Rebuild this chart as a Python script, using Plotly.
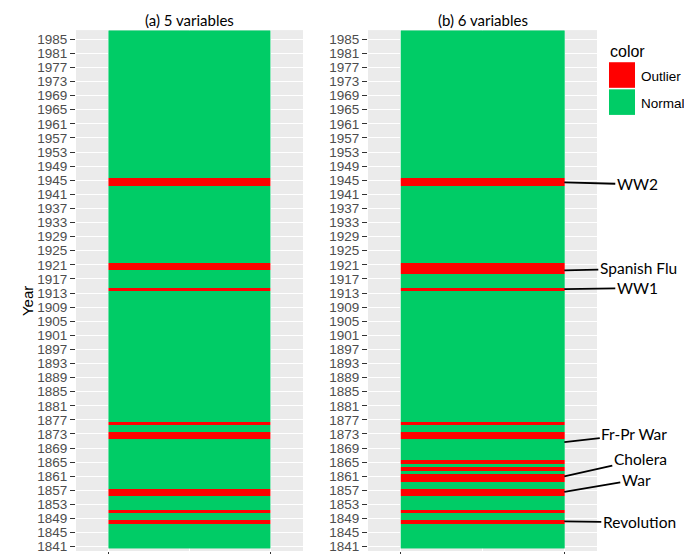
import plotly.graph_objects as go

# Years covered and the years flagged as outliers by each model
years = list(range(1841, 1988))
outlier_years_5 = [1848, 1851, 1856, 1857, 1872, 1873, 1876, 1914, 1920, 1921, 1944, 1945]
outlier_years_6 = [1848, 1851, 1856, 1857, 1860, 1861, 1863, 1865, 1872, 1873, 1876,
                   1914, 1919, 1920, 1921, 1944, 1945]
panel_titles = ["(a) 5 variables", "(b) 6 variables"]
y_tick_years = list(range(1841, 1988, 4))

# Historical events marked on the right panel (label, year pointed at)
event_labels = ["WW2", "Spanish Flu", "WW1", "Fr-Pr War", "Cholera", "War", "Revolution"]
event_years = [1944.4, 1919.4, 1914.1, 1870.7, 1861.0, 1856.6, 1848.2]
# label offsets from the arrow tip, in pixels
event_offsets = [(73, 2), (74, -2), (73, -1), (70, -8), (76, -17), (72, -12), (75, 1)]

GREEN = "#00CC66"
RED = "#FF0000"
PANEL_BG = "#EBEBEB"
W, H = 684, 559
REF_H = 554  # layout positions below are given on a 684 x 554 grid


def flags(outliers):
    s = set(outliers)
    return [[1 if y in s else 0] for y in years]


colorscale = [[0, GREEN], [0.5, GREEN], [0.5, RED], [1, RED]]

fig = go.Figure()
for i, outl in enumerate([outlier_years_5, outlier_years_6]):
    sfx = "" if i == 0 else "2"
    fig.add_trace(go.Heatmap(
        x=[0, 1], y=years, z=flags(outl),
        zmin=0, zmax=1, colorscale=colorscale, showscale=False,
        xaxis="x" + sfx, yaxis="y" + sfx, hoverinfo="skip",
    ))


def px_x(p):
    return p / W


def px_y(p):
    return 1 - p / REF_H


tick_font = dict(family="Liberation Sans, Arial, sans-serif", size=13.5, color="#4D4D4D")
y_domain = [px_y(549), px_y(30)]
y_range = [1839.8, 1987.6]

xaxis_common = dict(
    range=[-0.2, 1.2], tickvals=[0, 1], ticktext=["", ""], ticks="outside",
    ticklen=4, tickcolor="#333333", tickwidth=1, showgrid=True, gridcolor="white",
    gridwidth=1, zeroline=False, showline=False, fixedrange=True,
    minor=dict(tickvals=[0.5], showgrid=True, gridcolor="white", gridwidth=0.6, ticks=""),
)
yaxis_common = dict(
    range=y_range, domain=y_domain, tickvals=y_tick_years,
    ticktext=[str(v) for v in y_tick_years], ticks="outside", ticklen=5,
    tickcolor="#333333", tickwidth=1, tickfont=tick_font, showgrid=True,
    gridcolor="white", gridwidth=1, zeroline=False, showline=False, fixedrange=True,
)

fig.update_layout(
    width=W, height=H, margin=dict(l=0, r=0, t=0, b=0),
    paper_bgcolor="white", plot_bgcolor=PANEL_BG, showlegend=False,
    xaxis=dict(domain=[px_x(76), px_x(303)], anchor="y", **xaxis_common),
    yaxis=dict(anchor="x", **yaxis_common),
    xaxis2=dict(domain=[px_x(368), px_x(597)], anchor="y2", **xaxis_common),
    yaxis2=dict(anchor="x2", **yaxis_common),
)

annotations = []
# Panel titles
for i, t in enumerate(panel_titles):
    sfx = "" if i == 0 else "2"
    annotations.append(dict(
        text=t, xref="x" + sfx + " domain", yref="paper", x=0.5, y=px_y(20),
        showarrow=False, xanchor="center", yanchor="middle",
        font=dict(family="Lato, sans-serif", size=15, color="black"),
    ))
# Shared y-axis title
annotations.append(dict(
    text="Year", xref="paper", yref="paper", x=px_x(27), y=px_y(300),
    showarrow=False, textangle=-90, xanchor="center", yanchor="middle",
    font=dict(family="Liberation Sans, Arial, sans-serif", size=15, color="black"),
))
# Event labels with leader lines to the right panel
for lab, yr, (ax, ay) in zip(event_labels, event_years, event_offsets):
    annotations.append(dict(
        text=lab, xref="x2", yref="y2", x=1, y=yr, ax=ax, ay=ay,
        showarrow=True, arrowhead=0, arrowwidth=1.8, arrowcolor="black", standoff=0,
        font=dict(family="Lato, sans-serif", size=15.5, color="black"),
    ))

# Legend drawn as keys + labels
legend_labels = ["Outlier", "Normal"]
legend_colors = [RED, GREEN]
annotations.append(dict(
    text="color", xref="paper", yref="paper", x=px_x(608), y=px_y(51),
    showarrow=False, xanchor="left", yanchor="middle",
    font=dict(family="Liberation Sans, Arial, sans-serif", size=16, color="black"),
))
shapes = []
for k, (lab, col) in enumerate(zip(legend_labels, legend_colors)):
    top = 62 + k * 27
    shapes.append(dict(
        type="rect", xref="paper", yref="paper",
        x0=px_x(609), x1=px_x(635), y0=px_y(top + 25.5), y1=px_y(top),
        fillcolor=col, line=dict(width=0),
    ))
    annotations.append(dict(
        text=lab, xref="paper", yref="paper", x=px_x(639), y=px_y(top + 14),
        showarrow=False, xanchor="left", yanchor="middle",
        font=dict(family="Liberation Sans, Arial, sans-serif", size=13.5, color="black"),
    ))

fig.update_layout(annotations=annotations, shapes=shapes)
fig.write_html("out.html")
